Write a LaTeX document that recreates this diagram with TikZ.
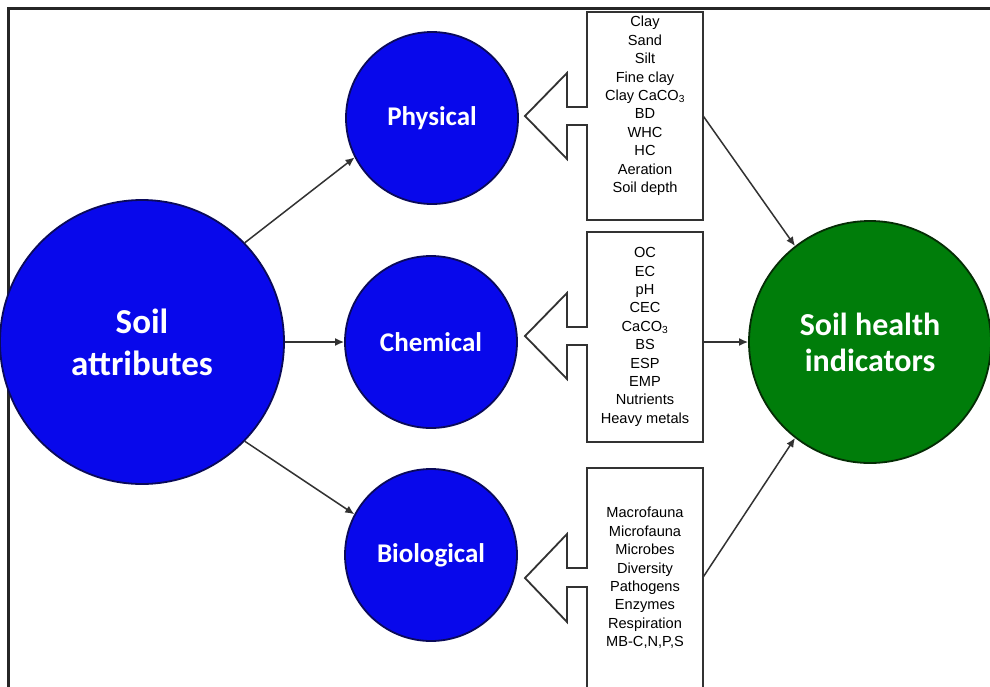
\documentclass[tikz,border=0pt]{standalone}
\usepackage{fontspec}
\setmainfont{Liberation Sans}
\newfontfamily\labfont{Carlito}
\usetikzlibrary{arrows.meta}
\definecolor{bluefill}{RGB}{8,8,235}
\definecolor{blueedge}{RGB}{10,10,90}
\definecolor{greenfill}{RGB}{0,125,10}
\definecolor{greenedge}{RGB}{5,45,5}
\definecolor{linecol}{RGB}{50,50,50}
\tikzset{
  blob/.style={circle, draw=blueedge, line width=1.8pt, fill=bluefill, text=white, align=center, inner sep=0pt},
  gblob/.style={circle, draw=greenedge, line width=1.8pt, fill=greenfill, text=white, align=center, inner sep=0pt},
  conn/.style={draw=linecol, line width=1.5pt, -{Latex[length=9pt,width=8pt]}},
  boxline/.style={draw=linecol, line width=1.8pt, fill=white},
  boxnode/.style={rectangle, draw=none, minimum width=116pt, inner sep=0pt},
  listtext/.style={align=center, font={\fontsize{14.6}{18.4}\selectfont}, inner sep=0pt},
  midlabel/.style={font={\labfont\bfseries\fontsize{27}{30}\selectfont}},
}
\begin{document}
\begin{tikzpicture}[x=1pt,y=-1pt]
\useasboundingbox (0,0) rectangle (990,686);
\clip (0,0) rectangle (990,686);
\fill[white] (0,0) rectangle (990,686);
% frame
\draw[line width=3pt, draw=black!85] (8,700) -- (8,8) -- (995,8);

% circles
\node[blob, minimum size=284pt, font={\labfont\bfseries\fontsize{35}{42}\selectfont}] (soil) at (142,342) {Soil\\attributes};
\node[blob, minimum size=172pt, midlabel] (phys) at (432,118) {Physical};
\node[blob, minimum size=172pt, midlabel] (chem) at (431,342) {Chemical};
\node[blob, minimum size=172pt, midlabel] (bio) at (431,555) {Biological};
\node[gblob, minimum size=242pt, font={\labfont\bfseries\fontsize{32}{36}\selectfont}] (soilh) at (870,342) {Soil health\\indicators};

% boxes with notched arrows
\draw[boxline] (587,12) -- (587,107) -- (567,107) -- (567,73) -- (525,116) -- (567,159) -- (567,125) -- (587,125) -- (587,220) -- (703,220) -- (703,12) -- cycle;
\draw[boxline] (587,232) -- (587,327) -- (567,327) -- (567,293) -- (525,336) -- (567,379) -- (567,345) -- (587,345) -- (587,442) -- (703,442) -- (703,232) -- cycle;
\draw[boxline] (587,468) -- (587,568) -- (567,568) -- (567,534) -- (525,578) -- (567,622) -- (567,587) -- (587,587) -- (587,710) -- (703,710) -- (703,468) -- cycle;

\node[boxnode, minimum height=208pt] (pbox) at (645,116) {};
\node[boxnode, minimum height=206pt] (cbox) at (645,342) {};
\node[boxnode, minimum height=218pt] (bbox) at (645,577) {};

\node[listtext] (ptext) at (645,106) {Clay\\Sand\\Silt\\Fine clay\\Clay CaCO\textsubscript{3}\\BD\\WHC\\HC\\Aeration\\Soil depth};
\node[listtext] (ctext) at (645,337) {OC\\EC\\pH\\CEC\\CaCO\textsubscript{3}\\BS\\ESP\\EMP\\Nutrients\\Heavy metals};
\node[listtext] (btext) at (645,578) {Macrofauna\\Microfauna\\Microbes\\Diversity\\Pathogens\\Enzymes\\Respiration\\MB-C,N,P,S};

% connectors
\draw[conn] (soil.44) -- (phys.207);
\draw[conn] (soil.east) -- (chem.west);
\draw[conn] (soil.316) -- (bio.152);
\draw[conn] (pbox.east) -- (soilh.128);
\draw[conn] (cbox.east) -- (soilh.west);
\draw[conn] (bbox.east) -- (soilh.232);
\end{tikzpicture}
\end{document}
